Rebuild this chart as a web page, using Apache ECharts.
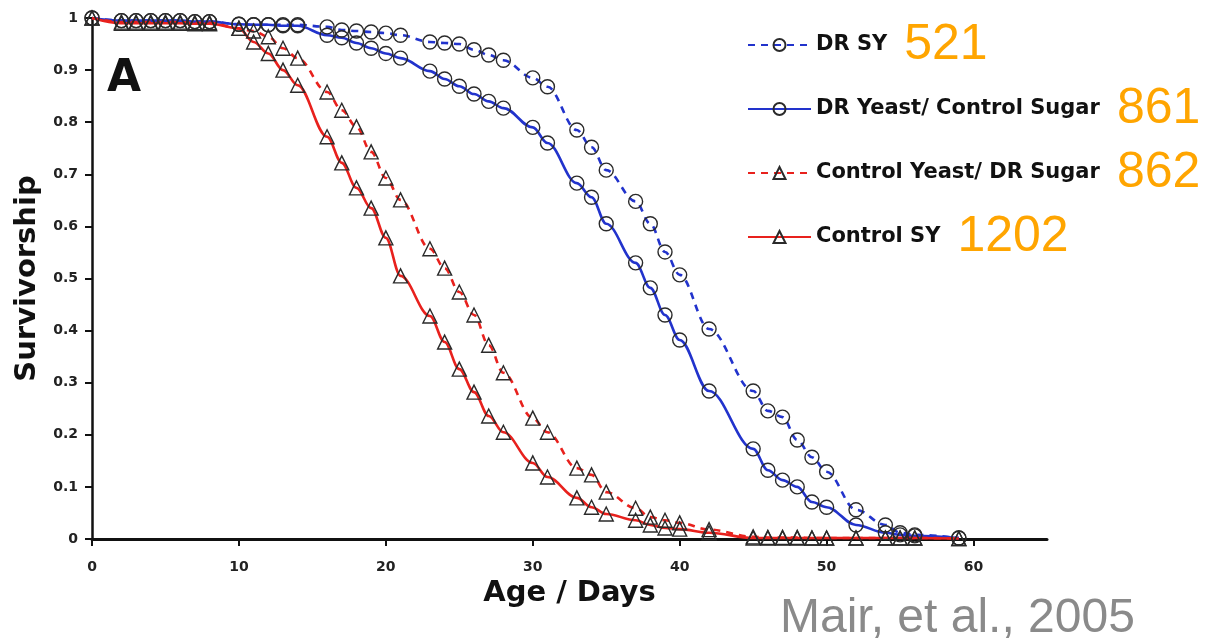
<!DOCTYPE html>
<html>
<head>
<meta charset="utf-8">
<script src="https://cdn.jsdelivr.net/npm/echarts@6/dist/echarts.min.js"></script>
<style>
  html, body { margin: 0; padding: 0; background: #ffffff; }
  #chart { width: 1216px; height: 639px; }
</style>
</head>
<body>
<div id="chart"></div>
<script>
// Days at which survivorship was scored
const days = [0,2,3,4,5,6,7,8,10,11,12,13,14,16,17,18,19,20,21,23,24,25,26,27,28,30,31,33,34,35,37,38,39,40,42,45,46,47,48,49,50,52,54,55,56,59];

// DR SY (dashed blue, circles)
const drSY = [1.0,0.995,0.995,0.995,0.995,0.995,0.993,0.993,0.988,0.987,0.987,0.987,0.987,0.983,0.977,0.975,0.973,0.971,0.967,0.954,0.952,0.950,0.939,0.929,0.919,0.885,0.868,0.785,0.752,0.708,0.648,0.605,0.551,0.507,0.403,0.284,0.246,0.234,0.190,0.157,0.129,0.056,0.027,0.012,0.008,0.002];

// DR Yeast / Control Sugar (solid blue, circles)
const drYeastCtrlSugar = [1.0,0.995,0.995,0.995,0.995,0.995,0.993,0.993,0.988,0.987,0.987,0.985,0.985,0.967,0.962,0.952,0.942,0.932,0.923,0.898,0.883,0.869,0.854,0.840,0.827,0.790,0.760,0.683,0.656,0.605,0.530,0.482,0.430,0.382,0.284,0.173,0.132,0.113,0.100,0.071,0.061,0.027,0.012,0.008,0.006,0.002];

// Control Yeast / DR Sugar (dashed red, triangles)
const ctrlYeastDrSugar = [1.0,0.992,0.992,0.992,0.992,0.992,0.991,0.991,0.980,0.975,0.964,0.942,0.923,0.858,0.823,0.791,0.743,0.693,0.651,0.557,0.520,0.474,0.430,0.372,0.319,0.232,0.205,0.136,0.123,0.090,0.059,0.042,0.036,0.031,0.018,0.004,0.003,0.003,0.003,0.002,0.002,0.002,0.002,0.002,0.002,0.001];

// Control SY (solid red, triangles)
const controlSY = [1.0,0.990,0.990,0.990,0.990,0.990,0.989,0.989,0.980,0.954,0.932,0.900,0.871,0.772,0.722,0.674,0.635,0.578,0.505,0.428,0.378,0.326,0.282,0.236,0.205,0.146,0.119,0.079,0.061,0.048,0.036,0.027,0.021,0.019,0.012,0.002,0.002,0.002,0.002,0.002,0.002,0.002,0.002,0.002,0.002,0.001];

// Legend names and sample sizes
const seriesNames = ['DR SY', 'DR Yeast/ Control Sugar', 'Control Yeast/ DR Sugar', 'Control SY'];
const sampleSizes = ['521', '861', '862', '1202'];

// Axis ticks
const xTicks = [0, 10, 20, 30, 40, 50, 60];

const BLUE = '#2233cc';
const RED = '#e8211d';
const MARK = '#2a2a2a';
const BOLD = 'DejaVu Sans';

function pairs(vals) { return days.map((d, i) => [d, vals[i]]); }

function mkSeries(name, vals, color, dashed, symbol, size) {
  return {
    name: name,
    type: 'line',
    data: pairs(vals),
    smooth: 0.35,
    smoothMonotone: 'x',
    symbol: symbol,
    symbolSize: size,
    showAllSymbol: true,
    lineStyle: { color: color, width: 2.6, type: dashed ? [7, 6] : 'solid' },
    itemStyle: { color: 'rgba(255,255,255,0)', borderColor: MARK, borderWidth: 1.4 },
    emphasis: { disabled: true },
    animation: false
  };
}

const chart = echarts.init(document.getElementById('chart'), null, { renderer: 'canvas' });
chart.setOption({
  backgroundColor: '#ffffff',
  animation: false,
  grid: { left: 92, right: 169, top: 18, bottom: 100, containLabel: false },
  xAxis: {
    type: 'value', min: 0, max: 65, interval: 10,
    name: 'Age / Days', nameLocation: 'middle', nameGap: 36,
    nameTextStyle: { fontFamily: BOLD, fontWeight: 'bold', fontSize: 29, color: '#111' },
    axisLine: { lineStyle: { color: '#111', width: 3 } },
    axisTick: { inside: false, length: 7, lineStyle: { color: '#111', width: 2 }, customValues: xTicks },
    axisLabel: { customValues: xTicks, margin: 21, fontFamily: BOLD, fontWeight: 'bold', fontSize: 14, color: '#222' },
    splitLine: { show: false }
  },
  yAxis: {
    type: 'value', min: 0, max: 1, interval: 0.1,
    name: 'Survivorship', nameLocation: 'middle', nameGap: 46, nameRotate: 90,
    nameTextStyle: { fontFamily: BOLD, fontWeight: 'bold', fontSize: 29, color: '#111' },
    axisLine: { show: true, lineStyle: { color: '#111', width: 2.5 } },
    axisTick: { show: true, inside: false, length: 7, lineStyle: { color: '#111', width: 2 } },
    axisLabel: { margin: 14, fontFamily: BOLD, fontWeight: 'bold', fontSize: 14, color: '#222' },
    splitLine: { show: false }
  },
  legend: {
    orient: 'vertical', left: 747, top: 20, padding: 0,
    itemWidth: 63, itemHeight: 15, itemGap: 14,
    selectedMode: false,
    data: seriesNames,
    formatter: function (name) {
      const i = seriesNames.indexOf(name);
      return name + '{n|' + sampleSizes[i] + '}';
    },
    textStyle: {
      fontFamily: BOLD, fontWeight: 'bold', fontSize: 21, color: '#111',
      rich: {
        n: { fontFamily: 'Liberation Sans', fontWeight: 'normal', fontSize: 50, color: '#FFA500', padding: [0, 0, 0, 17] }
      }
    }
  },
  graphic: [
    { type: 'text', left: 107, top: 58, style: { text: 'A', font: 'bold 44px "DejaVu Sans"', fill: '#111' } },
    { type: 'text', left: 780, top: 595, style: { text: 'Mair, et al., 2005', font: '48px "Liberation Sans"', fill: '#8a8a8a' } }
  ],
  series: [
    mkSeries(seriesNames[0], drSY, BLUE, true, 'circle', 14),
    mkSeries(seriesNames[1], drYeastCtrlSugar, BLUE, false, 'circle', 14),
    mkSeries(seriesNames[2], ctrlYeastDrSugar, RED, true, 'triangle', 14),
    mkSeries(seriesNames[3], controlSY, RED, false, 'triangle', 14)
  ]
});
</script>
</body>
</html>
